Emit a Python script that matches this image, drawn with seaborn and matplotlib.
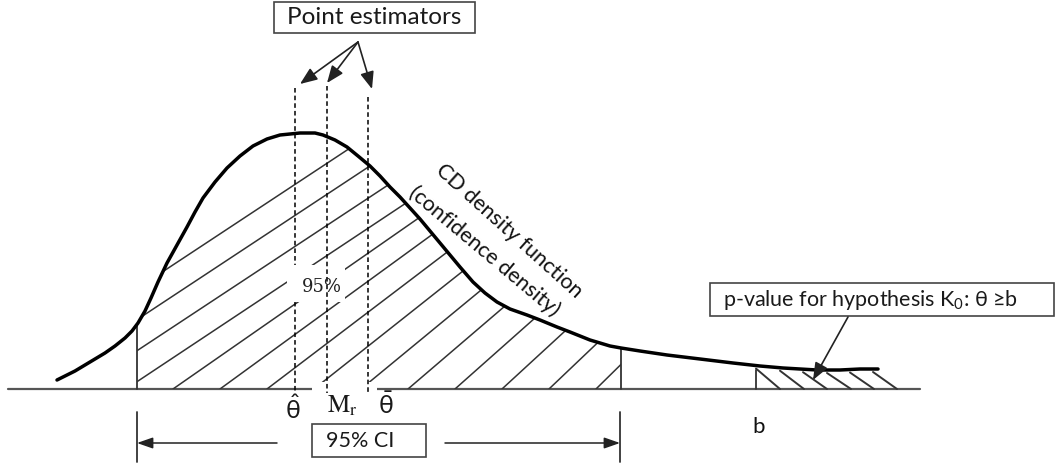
import numpy as np
import matplotlib
matplotlib.use("Agg")
import matplotlib.pyplot as plt
from matplotlib.patches import Rectangle, Polygon
import seaborn as sns

# ---- data (pixel-like units) ----
curve_x = [57, 75, 90, 105, 115, 125, 132, 138, 145, 151, 158, 167, 177, 187, 195, 203,
           215, 227, 240, 253, 267, 280, 300, 315, 323, 335, 347, 358, 370, 380, 390,
           400, 410, 420, 430, 440, 450, 460, 473, 485, 497, 510, 527, 540, 557, 570,
           580, 590, 600, 610, 621, 640, 667, 700, 733, 760, 783, 800, 817, 840, 860, 878]
curve_y = [380, 371, 362, 353, 346, 338, 331, 323, 311, 298, 282, 263, 245, 227, 212, 198,
           182, 168, 156, 146, 139, 135, 133, 133, 135, 140, 147, 156, 166, 176, 187,
           197, 208, 219, 231, 243, 255, 267, 282, 293, 302, 309, 315, 320, 327, 332,
           336, 340, 343, 346, 348, 351, 355, 359, 363, 366, 368, 369, 370, 370, 369, 369]
ci_lower, ci_upper = 137, 621
estimator_x = [295, 327, 368]
estimator_top = [88, 86, 97]
estimator_labels = [r'$\hat{\theta}$', r'$\mathrm{M}_{\mathrm{r}}$', r'$\bar{\theta}$']
estimator_label_x = [293, 342, 386]
arrow_tip_x = [300, 327, 372]
arrow_tip_y = [84, 83, 89]
b_value = 756
tail_hatch_x = [756, 780, 803, 827, 850, 873]
baseline_y = 389

sns.set_theme(style="white")
plt.rcParams['font.family'] = ['Lato', 'DejaVu Sans']
plt.rcParams['mathtext.fontset'] = 'custom'
plt.rcParams['mathtext.rm'] = 'Lato'
plt.rcParams['mathtext.default'] = 'regular'

fig = plt.figure(figsize=(10.55, 4.66), dpi=100)
ax = fig.add_axes([0, 0, 1, 1])

sns.lineplot(x=curve_x, y=curve_y, sort=False, color='black', linewidth=2.5,
             ax=ax, zorder=6, legend=False)

ax.set_xlim(0, 1055)
ax.set_ylim(466, 0)
ax.axis('off')

cx = np.array(curve_x, float)
cy = np.array(curve_y, float)
def curve_at(x):
    return float(np.interp(x, cx, cy))

ink = '#333333'
head = '-|>,head_length=0.8,head_width=0.32'
# baseline
ax.plot([8, 920], [baseline_y, baseline_y], color='#555555', lw=1.6, zorder=2)

# CI verticals
for xv in (ci_lower, ci_upper):
    ax.plot([xv, xv], [curve_at(xv), baseline_y], color=ink, lw=1.3, zorder=2)

# hatched CI region
m = (cx > ci_lower) & (cx < ci_upper)
pts = [(ci_lower, curve_at(ci_lower))] + list(zip(cx[m], cy[m])) + \
      [(ci_upper, curve_at(ci_upper)), (ci_upper, baseline_y), (ci_lower, baseline_y)]
poly = Polygon(pts, closed=True, facecolor='none', edgecolor='none')
ax.add_patch(poly)
for x0 in np.arange(173 - 47 * 4, ci_upper + 1, 47):
    s = np.interp(x0, [120, 620], [0.66, 1.0])
    ln, = ax.plot([x0, x0 + 600], [baseline_y, baseline_y - s * 600],
                  color=ink, lw=1.1, zorder=2)
    ln.set_clip_path(poly)

# white gaps (label backgrounds)
ax.add_patch(Rectangle((287, 265), 58, 37, fc='white', ec='none', zorder=3))
ax.add_patch(Rectangle((312, 382), 65, 12, fc='white', ec='none', zorder=3))

# dashed estimator lines
for i, (xv, yt) in enumerate(zip(estimator_x, estimator_top)):
    ax.plot([xv, xv], [yt, 393], color='black', lw=1.1, ls=(0, (3, 2)),
            zorder=2.5 if i == 0 else 4)

# Point estimators box + arrows
ax.add_patch(Rectangle((274, 2), 201, 31, fc='white', ec='#444444', lw=1.2, zorder=5))
ax.text(374.5, 18, 'Point estimators', ha='center', va='center', fontsize=17.5,
        color='#1a1a1a', zorder=6)
for tx, ty in zip(arrow_tip_x, arrow_tip_y):
    ax.annotate('', xy=(tx, ty), xytext=(358, 42),
                arrowprops=dict(arrowstyle=head, color='#222222', lw=1.2,
                                mutation_scale=13, shrinkA=0, shrinkB=0), zorder=5)

# CD density labels
ax.text(509, 231, 'CD density function', rotation=-42, rotation_mode='anchor',
        ha='center', va='center', fontsize=15.5, color='#111111', zorder=7)
ax.text(484, 251, '(confidence density)', rotation=-40, rotation_mode='anchor',
        ha='center', va='center', fontsize=15.5, color='#111111', zorder=7)

# 95% label
ax.text(322, 287, '95%', ha='center', va='center', fontsize=13,
        family='DejaVu Serif', color='#222222', zorder=6)

# estimator labels
for lx, lab, yy in zip(estimator_label_x, estimator_labels, [409, 406, 405]):
    ax.text(lx, yy, lab, ha='center', va='center', fontsize=18,
            math_fontfamily='stix', color='#1a1a1a', zorder=6)

# 95% CI box and arrows
ax.add_patch(Rectangle((312, 424), 114, 33, fc='white', ec='#444444', lw=1.2, zorder=5))
ax.text(360, 441, '95% CI', ha='center', va='center', fontsize=15.5,
        color='#1a1a1a', zorder=6)
for xv in (ci_lower, ci_upper - 1):
    ax.plot([xv, xv], [412, 462], color=ink, lw=1.3, zorder=4)
ax.annotate('', xy=(ci_lower, 443), xytext=(277, 443),
            arrowprops=dict(arrowstyle='-|>,head_length=0.8,head_width=0.28',
                            color='#222222', lw=1.1,
                            mutation_scale=12, shrinkA=0, shrinkB=0))
ax.annotate('', xy=(ci_upper - 1, 443), xytext=(445, 443),
            arrowprops=dict(arrowstyle='-|>,head_length=0.8,head_width=0.28',
                            color='#222222', lw=1.1,
                            mutation_scale=12, shrinkA=0, shrinkB=0))

# b label
ax.text(759, 427, 'b', ha='center', va='center', fontsize=16, color='#111111')

# p-value tail region
ax.plot([b_value, b_value], [curve_at(b_value) + 4, baseline_y], color=ink, lw=1.3, zorder=2)
for x0 in tail_hatch_x:
    ax.plot([x0, x0 + 24], [curve_at(x0) + 3, baseline_y], color=ink, lw=1.4, zorder=2)

ax.add_patch(Rectangle((710, 283), 344, 33, fc='white', ec='#444444', lw=1.2, zorder=5))
ax.text(723, 300, 'p-value for hypothesis K$_0$: θ ≥b', ha='left', va='center',
        fontsize=15.5, color='#1a1a1a', zorder=6)
ax.annotate('', xy=(813, 380), xytext=(848, 317),
            arrowprops=dict(arrowstyle=head, color='#222222', lw=1.2,
                            mutation_scale=13, shrinkA=0, shrinkB=0), zorder=7)

fig.savefig('out.png', dpi=100, facecolor='white')
